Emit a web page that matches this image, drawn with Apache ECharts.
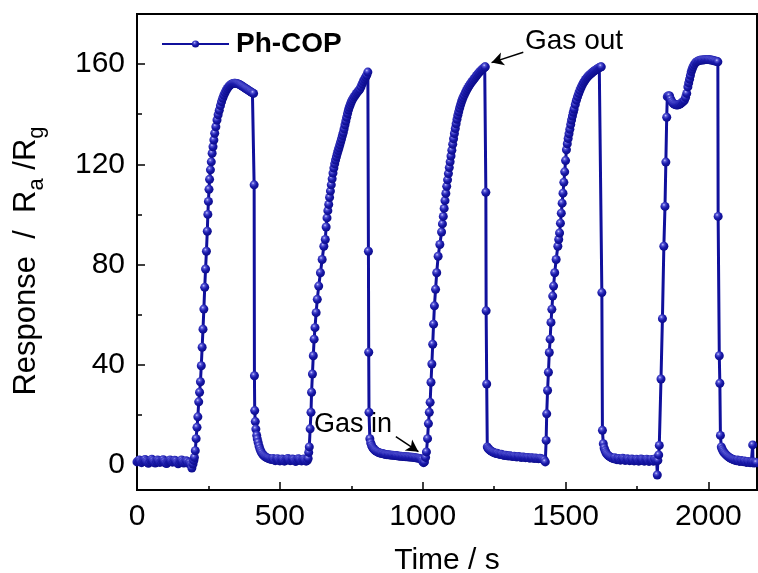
<!DOCTYPE html>
<html>
<head>
<meta charset="utf-8">
<script src="https://cdn.jsdelivr.net/npm/echarts@6/dist/echarts.min.js"></script>
<style>
  html, body { margin: 0; padding: 0; background: #fff; }
  #main { width: 758px; height: 573px; }
</style>
</head>
<body>
<div id="main"></div>
<script>
// ticks
const xMajor = [0, 500, 1000, 1500, 2000];
const xMinor = [250, 750, 1250, 1750];
const yMajor = [0, 40, 80, 120, 160];
const yMinor = [20, 60, 100, 140];

// [time (s), response], one array per gas cycle
const base0 = [[0,1.2],[4,1.6],[8,2.0],[12,1.4],[16,0.9],[20,1.3],[24,1.8],[28,2.2],[32,1.5],[36,1.0],[40,0.7],[44,1.2],[48,1.9],[52,2.3],[56,1.7],[60,1.1],[64,0.8],[68,1.4],[72,2.0],[76,1.6],[80,1.0],[84,1.3],[88,1.9],[92,2.1],[96,1.4],[100,0.8],[104,0.6],[108,1.2],[112,1.7],[116,2.0],[120,1.5],[124,1.1],[128,1.4],[132,1.9],[136,1.6],[140,0.9],[144,0.5],[148,1.0],[152,1.6],[156,2.0],[160,1.3],[164,0.8],[168,1.1],[172,1.7],[176,1.4],[180,0.7],[184,0.9],[188,0.2],[192,-1.2],[196,0.4]];
const cycle1 = [[199,1.8],[201,3.0],[204,5.7],[207,10.5],[210,15.0],[213,19.2],[216,25.2],[219,29.0],[222,33.2],[225,39.6],[228,47.0],[231,54.2],[234,62.2],[237,70.9],[240,78.2],[243,85.3],[246,93.3],[248,100],[250,105.2],[252,110],[254,114],[257,117.8],[260,121],[263,124.4],[266,127],[269,129.7],[272,132.4],[276,135],[280,137.7],[284,139.8],[288,141.6],[292,143.4],[296,145.0],[300,146.4],[304,147.6],[308,148.6],[312,149.5],[316,150.3],[320,150.9],[324,151.4],[328,151.8],[332,152.1],[336,152.3],[340,152.4],[344,152.4],[348,152.3],[352,152.2],[356,152.0],[360,151.8],[364,151.5],[368,151.2],[372,150.9],[376,150.6],[380,150.3],[384,150.0],[388,149.7],[392,149.4],[396,149.1],[400,148.8],[404,148.5],[408,148.3],[410,111.8],[411,35.6],[412,21.7],[414,17.3],[416,14.3],[419,11.8],[421,10.4],[424,9.0],[427,7.6],[430,6.5],[433,5.6],[436,4.9],[440,4.2],[444,3.7],[448,3.3],[452,3.0],[456,2.8],[460,2.6],[464,2.4],[468,2.3],[472,2.2],[476,2.6],[480,2.0],[484,1.7],[488,2.3],[492,2.5],[496,1.9],[500,1.6],[504,2.1],[508,2.4],[512,2.0],[516,1.5],[520,1.8],[524,2.3],[528,2.6],[532,2.1],[536,1.7],[540,1.9],[544,2.4],[548,2.2],[552,1.6],[556,1.4],[560,1.9],[564,2.5],[568,2.3],[572,1.8],[576,1.6],[580,2.1],[584,2.4],[588,1.9],[592,1.5],[596,1.8]];
const cycle2 = [[599,2.6],[601,5.0],[603,7.2],[606,14.4],[609,21.0],[611,29.0],[614,36.3],[617,43.6],[620,50.2],[623,54.8],[627,60.8],[631,66.1],[636,71.4],[642,76.7],[648,82.0],[654,87.3],[659,90.0],[662,95],[665,98.6],[668,101.5],[671,104],[674,106.8],[677,109.3],[680,111.8],[683,114.2],[686,116.5],[689,118.5],[692,120.2],[695,121.7],[698,123],[701,124.3],[704,125.5],[707,126.6],[710,127.8],[713,129],[716,130.2],[719,131.5],[722,132.7],[725,134.2],[728,135.8],[731,137.3],[734,138.8],[737,140.3],[740,141.7],[743,142.8],[746,143.7],[749,144.6],[752,145.4],[756,146.2],[760,147],[764,147.6],[768,148.3],[772,148.9],[776,149.4],[780,150],[784,151],[788,152.1],[792,153.1],[796,154],[800,154.8],[804,155.6],[808,156.8],[810,85.3],[811,45.0],[812,21.0],[815,10.5],[818,8.8],[821,7.8],[824,7.1],[827,6.6],[830,6.2],[833,5.8],[837,5.5],[841,5.2],[845,5.0],[849,4.8],[853,4.7],[857,4.6],[862,4.5],[866,4.3],[870,4.2],[875,4.1],[880,4.1],[885,4.0],[890,3.9],[895,3.9],[900,3.8],[905,3.8],[909,3.7],[914,3.6],[919,3.5],[924,3.5],[929,3.4],[934,3.4],[939,3.3],[944,3.3],[949,3.2],[954,3.2],[959,3.1],[964,3.1],[969,3.0],[974,2.9],[979,2.8],[984,2.7],[989,2.6],[993,2.4],[997,2.1],[1000,1.4],[1003,0.9],[1006,1.2]];
const cycle3 = [[1010,3.0],[1013,5.2],[1017,10.5],[1020,16.5],[1023,21.0],[1026,25.0],[1029,33.0],[1032,40.3],[1035,48.2],[1038,56.2],[1041,63.5],[1045,70.1],[1049,76.7],[1054,83.3],[1060,88],[1066,93],[1069,96.2],[1072,99.2],[1075,102.4],[1078,105.5],[1081,108.4],[1084,111.2],[1087,113.8],[1090,116.3],[1093,118.7],[1096,121],[1099,123.3],[1102,125.6],[1105,128],[1108,130.2],[1111,132.3],[1114,134.3],[1117,136.2],[1120,138],[1123,139.6],[1126,141],[1129,142.4],[1132,143.6],[1135,144.7],[1138,145.7],[1141,146.6],[1145,147.6],[1149,148.6],[1153,149.5],[1157,150.3],[1161,151.1],[1165,151.8],[1169,152.5],[1173,153.1],[1177,153.7],[1181,154.3],[1185,154.9],[1189,155.5],[1193,156.1],[1197,156.6],[1201,157.1],[1205,157.6],[1209,158],[1213,158.4],[1217,158.8],[1219,158.9],[1221,108.8],[1222,61.5],[1224,32.3],[1226,7.2],[1229,6.6],[1232,6.2],[1236,5.8],[1240,5.5],[1244,5.2],[1248,5.0],[1252,4.8],[1256,4.6],[1260,4.7],[1265,4.4],[1270,4.2],[1275,4.3],[1280,4.0],[1285,3.8],[1290,3.9],[1295,3.7],[1300,3.6],[1305,3.7],[1310,3.5],[1315,3.4],[1320,3.5],[1325,3.3],[1330,3.2],[1335,3.4],[1340,3.2],[1345,3.0],[1350,3.2],[1355,3.1],[1360,2.9],[1365,3.0],[1370,2.9],[1375,2.7],[1380,2.9],[1385,2.8],[1390,2.6],[1395,2.8],[1400,2.6],[1405,2.5],[1410,2.7],[1415,2.5],[1420,2.3],[1425,2.0],[1429,1.2]];
const cycle4 = [[1432,9.8],[1434,20.4],[1437,29.7],[1440,37.0],[1443,44.9],[1446,50.2],[1449,56.9],[1452,62.1],[1455,67.4],[1458,71.4],[1462,76.7],[1467,82.0],[1473,87.3],[1476,90],[1479,92.6],[1482,96.5],[1485,100.5],[1488,104.5],[1491,108.5],[1494,112.8],[1497,117],[1500,121.5],[1503,125.8],[1506,128.2],[1509,130.3],[1512,132.2],[1515,134],[1518,135.9],[1521,137.7],[1524,139.3],[1527,140.8],[1530,142.1],[1534,143.9],[1538,145.6],[1542,147],[1546,148.3],[1550,149.5],[1554,150.6],[1558,151.6],[1562,152.5],[1566,153.2],[1570,153.9],[1574,154.5],[1578,155],[1582,155.5],[1586,155.9],[1590,156.3],[1594,156.7],[1598,157.1],[1602,157.4],[1606,157.7],[1610,158],[1614,158.3],[1618,158.6],[1622,158.8],[1625,158.9],[1627,68.8],[1629,13.8],[1632,8.5],[1635,6.8],[1638,5.8],[1641,5.0],[1644,4.4],[1648,3.9],[1652,3.5],[1656,3.2],[1660,2.9],[1664,2.7],[1668,2.5],[1672,2.9],[1676,2.3],[1680,2.1],[1684,2.6],[1688,2.4],[1692,1.9],[1696,2.2],[1700,2.7],[1704,2.3],[1708,1.8],[1712,2.0],[1716,2.5],[1720,2.2],[1724,1.7],[1728,1.9],[1732,2.4],[1736,2.1],[1740,1.6],[1744,1.8],[1748,2.3],[1752,2.0],[1756,1.5],[1760,1.9],[1764,2.4],[1768,2.2],[1772,1.7],[1776,1.5],[1780,2.0],[1784,2.3],[1788,1.8],[1792,1.4],[1796,1.9],[1800,2.2],[1804,1.7],[1808,1.5],[1812,2.4],[1816,1.8],[1819,1.6],[1821,-4.0],[1823,1.8],[1826,4.0]];
const cycle5 = [[1828,7.8],[1834,34.3],[1839,58.4],[1844,87.3],[1848,103.2],[1851,120.9],[1854,138.8],[1856,147],[1860,147.4],[1864,147.3],[1868,146],[1872,145],[1876,144.4],[1880,144],[1884,143.8],[1888,143.7],[1892,143.7],[1896,143.8],[1900,144],[1904,144.3],[1908,144.7],[1912,145.1],[1916,145.6],[1920,146.7],[1924,148.3],[1928,150.9],[1931,152.5],[1934,154],[1937,155.5],[1940,157],[1943,158],[1946,158.9],[1950,159.8],[1955,160.6],[1960,161],[1965,161.3],[1970,161.5],[1975,161.6],[1980,161.6],[1985,161.7],[1990,161.8],[1995,161.8],[2000,161.8],[2005,161.7],[2010,161.6],[2015,161.5],[2020,161.3],[2025,161.2],[2030,161],[2033,160.9],[2034,99.2],[2038,43.6],[2040,32.6],[2042,11.8],[2045,7.2],[2048,6.3],[2051,5.6],[2054,5.0],[2058,4.5],[2062,4.0],[2066,3.6],[2070,3.2],[2074,2.9],[2078,2.6],[2082,2.4],[2086,2.2],[2090,2.0],[2094,1.9],[2098,1.7],[2102,2.0],[2106,1.6],[2110,1.4],[2114,1.8],[2118,1.5],[2122,1.3],[2126,1.6],[2130,1.2],[2134,1.0],[2138,1.4],[2142,1.1],[2146,0.9],[2150,1.2],[2153,0.9],[2155,8.0],[2156,1.2],[2160,0.8],[2164,1.1],[2168,0.9]];

// annotation arrows, in data units: [from, to]
const arrowOut = [[1352, 164.7], [1241, 160.6]];
const arrowIn = [[906, 11.3], [985, 5.3]];

const responseData = base0.concat(cycle1, cycle2, cycle3, cycle4, cycle5);

const FONT = '"Liberation Sans", Arial, Helvetica, sans-serif';
const LINE = '#10109c';
const ball = new echarts.graphic.RadialGradient(0.38, 0.32, 0.7, [
  { offset: 0, color: '#c8c8ff' },
  { offset: 0.22, color: '#5454d4' },
  { offset: 0.55, color: '#1a1aaa' },
  { offset: 1, color: '#0a0a88' }
]);

const chart = echarts.init(document.getElementById('main'), null, { renderer: 'canvas' });

const tickStyle = { color: '#000', width: 1.5 };
const plain = v => String(v);

const option = {
  animation: false,
  backgroundColor: '#fff',
  grid: {
    left: 137, right: 1, top: 14, bottom: 83,
    containLabel: false, outerBoundsMode: 'none',
    show: true, borderColor: '#000', borderWidth: 2
  },
  legend: {
    left: 161,
    top: 30,
    padding: 0,
    itemWidth: 67,
    itemHeight: 9,
    data: ['Ph-COP'],
    textStyle: { fontSize: 28, fontWeight: 'bold', color: '#000', fontFamily: FONT, padding: [0, 0, 0, 2] }
  },
  xAxis: [
    {
      type: 'value', min: 0, max: 2170, position: 'bottom',
      axisLine: { show: true, onZero: false, lineStyle: { color: '#000', width: 2 } },
      axisTick: { show: true, inside: true, length: 8, customValues: xMajor, lineStyle: tickStyle },
      axisLabel: { customValues: xMajor, formatter: plain, margin: 12, fontSize: 30, color: '#000', fontFamily: FONT },
      splitLine: { show: false },
      name: 'Time / s', nameLocation: 'middle', nameGap: 56,
      nameTextStyle: { fontSize: 30, color: '#000', fontFamily: FONT }
    },
    {
      type: 'value', min: 0, max: 2170, position: 'bottom', offset: 0,
      axisLine: { show: false, onZero: false },
      axisTick: { show: true, inside: true, length: 4, customValues: xMinor, lineStyle: tickStyle },
      axisLabel: { show: false },
      splitLine: { show: false }
    }
  ],
  yAxis: [
    {
      type: 'value', min: -10, max: 180, position: 'left',
      axisLine: { show: true, onZero: false, lineStyle: { color: '#000', width: 2 } },
      axisTick: { show: true, inside: true, length: 8, customValues: yMajor, lineStyle: tickStyle },
      axisLabel: { customValues: yMajor, formatter: plain, margin: 12, fontSize: 30, color: '#000', fontFamily: FONT },
      splitLine: { show: false },
      name: 'Response  /  R{sub|a} /R{sub|g}', nameLocation: 'middle', nameGap: 89,
      nameTextStyle: {
        fontSize: 31, color: '#000', fontFamily: FONT, padding: [0, 18, 0, 0],
        rich: {
          sub: { fontSize: 22, color: '#000', fontFamily: FONT, lineHeight: 44, verticalAlign: 'bottom' }
        }
      }
    },
    {
      type: 'value', min: -10, max: 180, position: 'left', offset: 0,
      axisLine: { show: false, onZero: false },
      axisTick: { show: true, inside: true, length: 5, customValues: yMinor, lineStyle: tickStyle },
      axisLabel: { show: false },
      splitLine: { show: false }
    }
  ],
  graphic: [
    { type: 'text', x: 525, y: 41, style: { text: 'Gas out', font: '28px ' + FONT, fill: '#000', verticalAlign: 'middle' } },
    { type: 'text', x: 314, y: 425, style: { text: 'Gas in', font: '27px ' + FONT, fill: '#000', verticalAlign: 'middle' } }
  ],
  series: [
    {
      name: 'Ph-COP',
      type: 'line',
      xAxisIndex: 0,
      yAxisIndex: 0,
      data: responseData,
      symbol: 'circle',
      symbolSize: 9,
      showSymbol: true,
      showAllSymbol: true,
      lineStyle: { color: LINE, width: 3 },
      itemStyle: { color: ball, borderWidth: 0 },
      emphasis: { disabled: true },
      markLine: {
        silent: true,
        symbol: ['none', 'arrow'],
        symbolSize: [10, 12],
        label: { show: false },
        lineStyle: { color: '#000', width: 1.5, type: 'solid' },
        data: [
          [{ coord: arrowOut[0] }, { coord: arrowOut[1] }],
          [{ coord: arrowIn[0] }, { coord: arrowIn[1] }]
        ]
      }
    }
  ]
};

chart.setOption(option);
</script>
</body>
</html>
